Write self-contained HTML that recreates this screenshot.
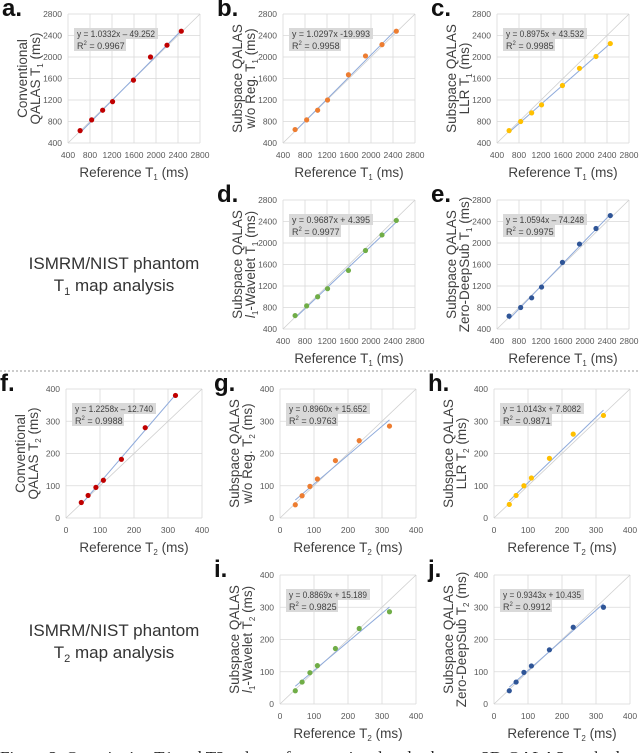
<!DOCTYPE html>
<html><head><meta charset="utf-8">
<style>
html,body{margin:0;padding:0;background:#fff;width:640px;height:753px;overflow:hidden}
svg{display:block;font-family:"Liberation Sans",sans-serif}
</style></head>
<body>
<svg id="fig" width="640" height="753" viewBox="0 0 640 753" xmlns="http://www.w3.org/2000/svg">
<line x1="0" y1="371" x2="640" y2="371" stroke="#9a9a9a" stroke-width="1" stroke-dasharray="2,2"/>
<text x="114" y="269" text-anchor="middle" font-size="17" fill="#333">ISMRM/NIST phantom</text>
<text x="114" y="291" text-anchor="middle" font-size="17" fill="#333">T<tspan font-size="11" dy="4">1</tspan><tspan dy="-4"> map analysis</tspan></text>
<text x="114" y="636" text-anchor="middle" font-size="17" fill="#333">ISMRM/NIST phantom</text>
<text x="114" y="658" text-anchor="middle" font-size="17" fill="#333">T<tspan font-size="11" dy="4">2</tspan><tspan dy="-4"> map analysis</tspan></text>
<text x="0" y="763" font-family="'Liberation Serif',serif" font-size="17" fill="#222">Figure 3: Quantitative T1 and T2 values of conventional and subspace 3D-QALAS methods</text>
</svg>
<script>
// ---- data ----
const t1Ref = [620, 830, 1030, 1210, 1590, 1900, 2200, 2460];
const t2Ref = [45, 65, 88, 110, 163, 233, 322];
const t1Ticks = [400, 800, 1200, 1600, 2000, 2400, 2800];
const t2Ticks = [0, 100, 200, 300, 400];
const aVals = [630, 830, 1010, 1170, 1570, 2000, 2220, 2480];
const bVals = [650, 830, 1010, 1200, 1670, 2020, 2230, 2480];
const cVals = [630, 800, 960, 1110, 1470, 1790, 2010, 2250];
const dVals = [650, 830, 1000, 1150, 1490, 1860, 2150, 2420];
const eVals = [640, 800, 980, 1180, 1640, 1980, 2270, 2510];
const fVals = [48, 70, 95, 117, 182, 280, 380];
const gVals = [41, 69, 98, 121, 178, 240, 285];
const hVals = [42, 70, 100, 124, 185, 260, 318];
const iVals = [41, 68, 97, 119, 172, 234, 286];
const jVals = [41, 68, 98, 118, 168, 238, 300];
const slopes = [1.0332, 1.0297, 0.8975, 0.9687, 1.0594, 1.2258, 0.8960, 1.0143, 0.8869, 0.9343];
const intercepts = [-49.252, -19.993, 43.532, 4.395, -74.248, -12.740, 15.652, 7.8082, 15.189, 10.435];
const eqLabels = ["y = 1.0332x – 49.252","y = 1.0297x -19.993","y = 0.8975x + 43.532","y = 0.9687x + 4.395","y = 1.0594x – 74.248","y = 1.2258x – 12.740","y = 0.8960x + 15.652","y = 1.0143x + 7.8082","y = 0.8869x + 15.189","y = 0.9343x + 10.435"];
const r2Labels = ["0.9967","0.9958","0.9985","0.9977","0.9975","0.9988","0.9763","0.9871","0.9825","0.9912"];

const NS = "http://www.w3.org/2000/svg";
const svg = document.getElementById('fig');
function mk(tag, attrs, parent){const e=document.createElementNS(NS,tag);for(const k in attrs)e.setAttribute(k,attrs[k]);(parent||svg).appendChild(e);return e;}

const panels = [
 {id:'a',x:68,y:14,t:1,vals:aVals,col:'#c00000',l1:'Conventional',l2:'QALAS T',l2b:''},
 {id:'b',x:283,y:14,t:1,vals:bVals,col:'#ed7d31',l1:'Subspace QALAS',l2:'w/o Reg. T',l2b:''},
 {id:'c',x:497,y:14,t:1,vals:cVals,col:'#ffc000',l1:'Subspace QALAS',l2:'LLR T',l2b:''},
 {id:'d',x:283,y:200,t:1,vals:dVals,col:'#70ad47',l1:'Subspace QALAS',l2:'-Wavelet T',l2b:'l'},
 {id:'e',x:497,y:200,t:1,vals:eVals,col:'#2f5597',l1:'Subspace QALAS',l2:'Zero-DeepSub T',l2b:''},
 {id:'f',x:66,y:389,t:2,vals:fVals,col:'#c00000',l1:'Conventional',l2:'QALAS T',l2b:''},
 {id:'g',x:280,y:389,t:2,vals:gVals,col:'#ed7d31',l1:'Subspace QALAS',l2:'w/o Reg. T',l2b:''},
 {id:'h',x:494,y:389,t:2,vals:hVals,col:'#ffc000',l1:'Subspace QALAS',l2:'LLR T',l2b:''},
 {id:'i',x:280,y:575,t:2,vals:iVals,col:'#70ad47',l1:'Subspace QALAS',l2:'-Wavelet T',l2b:'l'},
 {id:'j',x:494,y:575,t:2,vals:jVals,col:'#2f5597',l1:'Subspace QALAS',l2:'Zero-DeepSub T',l2b:''}
];

panels.forEach((p,idx)=>{
  const W = p.t===1?132:136, H = 129;
  const ticks = p.t===1?t1Ticks:t2Ticks;
  const ref = p.t===1?t1Ref:t2Ref;
  const mn = ticks[0], mx = ticks[ticks.length-1];
  const sx = v => p.x + (v-mn)/(mx-mn)*W;
  const sy = v => p.y + H - (v-mn)/(mx-mn)*H;
  const g = mk('g',{});
  
  
  const lab = mk('text',{x:p.x-66,y:p.y+2,'font-size':24,'font-weight':'bold',fill:'#111'},g);
  
  
  lab.textContent = p.id+'.';
  ticks.forEach(t=>{
    const gl = mk('line',{x1:p.x,x2:p.x+W,y1:sy(t),y2:sy(t),stroke:'#d9d9d9','stroke-width':0.8},g);
    
    
    const gv = mk('line',{x1:sx(t),x2:sx(t),y1:p.y,y2:p.y+H,stroke:'#d9d9d9','stroke-width':0.8},g);
    
    
    const yt = mk('text',{x:p.x-6,y:sy(t)+3,'text-anchor':'end','font-size':8.5,fill:'#595959'},g);
    
    
    yt.textContent = t;
    const xt = mk('text',{x:sx(t),y:p.y+H+15,'text-anchor':'middle','font-size':8.5,fill:'#595959'},g);
    
    
    xt.textContent = t;
  });
  const idl = mk('line',{x1:sx(mn),y1:sy(mn),x2:sx(mx),y2:sy(mx),stroke:'#cfcfcf','stroke-width':0.8},g);
  
  
  const x0 = ref[0], x1 = ref[ref.length-1];
  const tl = mk('line',{x1:sx(x0),y1:sy(slopes[idx]*x0+intercepts[idx]),x2:sx(x1),y2:sy(slopes[idx]*x1+intercepts[idx]),stroke:'#8eaadb','stroke-width':1},g);
  
  
  ref.forEach((r,k)=>{
    const c = mk('circle',{cx:sx(r),cy:sy(p.vals[k]),r:2.6,fill:p.col},g);
    
    
  });
  const bx = p.x+6, by = p.y+14;
  const b1 = mk('rect',{x:bx,y:by,width:84,height:11,fill:'#d9d9d9'},g);
  
  
  const b2 = mk('rect',{x:bx,y:by+11,width:52,height:12,fill:'#d9d9d9'},g);
  
  
  const et = mk('text',{x:bx+3,y:by+9,'font-size':9,fill:'#404040',textLength:78,lengthAdjust:'spacingAndGlyphs'},g);
  
  
  et.textContent = eqLabels[idx];
  const rt = mk('text',{x:bx+3,y:by+21,'font-size':9,fill:'#404040'},g);
  
  
  rt.innerHTML = 'R<tspan font-size="6" dy="-4">2</tspan><tspan dy="4"> = '+r2Labels[idx]+'</tspan>';
  const xtitle = mk('text',{x:p.x+W/2,y:p.y+H+34,'text-anchor':'middle','font-size':13.5,fill:'#404040'},g);
  
  
  xtitle.innerHTML = 'Reference T<tspan font-size="8" dy="3">'+p.t+'</tspan><tspan dy="-3"> (ms)</tspan>';
  const cy = p.y+H/2;
  const yt1 = mk('text',{x:0,y:0,'text-anchor':'middle','font-size':13.5,fill:'#404040',transform:'translate('+(p.x-41)+','+cy+') rotate(-90)'},g);
  
  
  yt1.textContent = p.l1;
  const yt2 = mk('text',{x:0,y:0,'text-anchor':'middle','font-size':13.5,fill:'#404040',transform:'translate('+(p.x-28)+','+cy+') rotate(-90)'},g);
  
  
  const pre = p.l2b ? '<tspan font-style="italic">l</tspan><tspan font-size="8" dy="3">1</tspan><tspan dy="-3">'+p.l2+'</tspan>' : p.l2;
  yt2.innerHTML = pre+'<tspan font-size="8" dy="3">'+p.t+'</tspan><tspan dy="-3"> (ms)</tspan>';
});
</script>
</body></html>
